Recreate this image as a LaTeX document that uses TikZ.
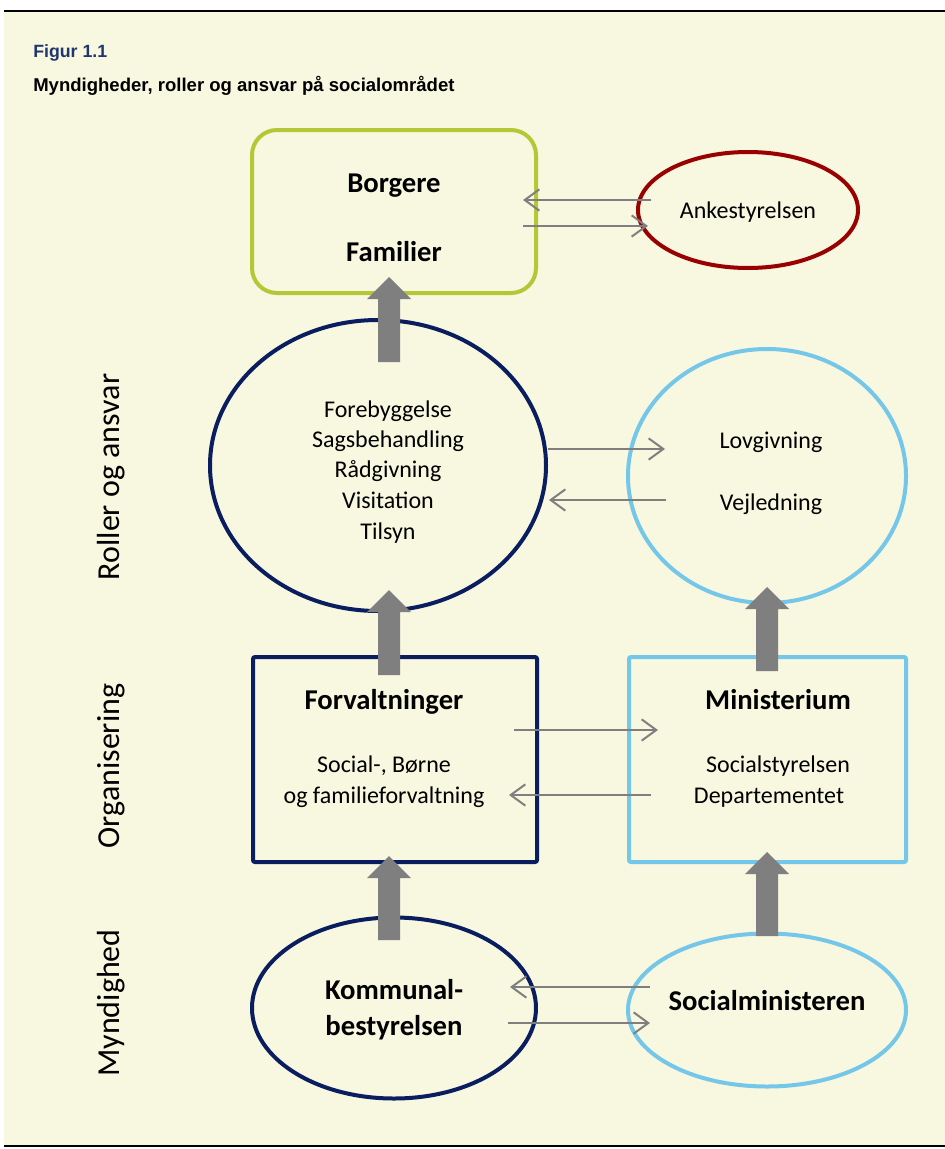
\documentclass[tikz,border=0pt]{standalone}
\usepackage{fontspec}
\setmainfont{Carlito}
\newfontfamily\arialfont{Liberation Sans}
\usetikzlibrary{shapes.geometric,calc,arrows.meta}
\definecolor{cream}{RGB}{248,247,224}
\definecolor{navy}{RGB}{10,30,95}
\definecolor{lblue}{RGB}{117,199,234}
\definecolor{lgreen}{RGB}{180,200,55}
\definecolor{dred}{RGB}{153,0,0}
\definecolor{titleblue}{RGB}{31,55,110}
\definecolor{arrgray}{RGB}{127,127,127}
\newcommand\blockarr[2]{%
  \fill[arrgray] let \p1=(#1), \p2=(#2) in
    (\x1-8.25pt,\y1) -- (\x1-8.25pt,\y2-16.5pt) -- (\x1-16.5pt,\y2-16.5pt) --
    (\x1,\y2) -- (\x1+16.5pt,\y2-16.5pt) -- (\x1+8.25pt,\y2-16.5pt) --
    (\x1+8.25pt,\y1) -- cycle;}
\begin{document}
\begin{tikzpicture}[x=0.75pt,y=-0.75pt,
  shapebox/.style={draw, line width=3pt, inner sep=0pt},
  ell/.style={shapebox, ellipse},
  boldtxt/.style={font=\fontsize{21.5}{26}\selectfont\bfseries, anchor=base, inner sep=0pt},
  regtxt/.style={font=\fontsize{18}{23}\selectfont, anchor=base, inner sep=0pt},
  sidetxt/.style={font=\fontsize{24}{28}\selectfont, rotate=90, inner sep=0pt},
  thinarr/.style={draw=arrgray, line width=1.5pt, -{Straight Barb[length=11pt,width=16pt,line width=1.5pt]}},
]
\useasboundingbox (0,0) rectangle (945,1149);
\fill[cream] (4,12) rectangle (945,1145);
\draw[line width=1.6pt] (4,11) -- (945,11);
\draw[line width=1.6pt] (4,1146) -- (945,1146);

% titles
\node[font=\arialfont\fontsize{13.3}{16}\selectfont\bfseries, text=titleblue, anchor=base west, inner sep=0pt] (fig) at (33,58) {Figur 1.1};
\node[font=\arialfont\fontsize{13.9}{16}\selectfont\bfseries, anchor=base west, inner sep=0pt] (sub) at (33,91) {Myndigheder, roller og ansvar på socialområdet};

% side labels
\node[sidetxt] (lab1) at (111,477) {Roller og ansvar};
\node[sidetxt] (lab2) at (111,766) {Organisering};
\node[sidetxt] (lab3) at (111,1003) {Myndighed};

% shapes
\node[shapebox, draw=lgreen, rounded corners=18.75pt, minimum width=213pt, minimum height=122.25pt] (borg) at (394,211.5) {};
\node[ell, draw=dred, minimum width=165pt, minimum height=87pt] (anke) at (748,210) {};
\node[ell, draw=navy, minimum width=252pt, minimum height=218.25pt] (roles) at (378,465.5) {};
\node[ell, draw=lblue, minimum width=208.5pt, minimum height=190.5pt] (lov) at (767,476) {};
\node[shapebox, draw=navy, rounded corners=1.5pt, minimum width=213pt, minimum height=153.75pt] (forv) at (395,759.5) {};
\node[shapebox, draw=lblue, rounded corners=1.5pt, minimum width=207.75pt, minimum height=153.75pt] (mini) at (767.5,759.5) {};
\node[ell, draw=navy, minimum width=213pt, minimum height=135.75pt] (komm) at (394,1008) {};
\node[ell, draw=lblue, minimum width=208.5pt, minimum height=114.75pt] (socm) at (767,1010) {};

% texts
\node[boldtxt] (t1) at (394,192) {Borgere};
\node[boldtxt] (t2) at (394,261) {Familier};
\node[regtxt] (t3) at (748,218) {Ankestyrelsen};
\node[regtxt] (t4) at (388,417) {Forebyggelse};
\node[regtxt] (t5) at (388,447) {Sagsbehandling};
\node[regtxt] (t6) at (388,477) {Rådgivning};
\node[regtxt] (t7) at (388,508) {Visitation};
\node[regtxt] (t8) at (388,539) {Tilsyn};
\node[regtxt] (t9) at (771,448) {Lovgivning};
\node[regtxt] (t10) at (771,510) {Vejledning};
\node[boldtxt] (t11) at (384,709) {Forvaltninger};
\node[regtxt] (t12) at (384,772) {Social-, Børne};
\node[regtxt] (t13) at (384,803) {og familieforvaltning};
\node[boldtxt] (t14) at (778,709) {Ministerium};
\node[regtxt] (t15) at (778,772) {Socialstyrelsen};
\node[regtxt] (t16) at (769,803) {Departementet};
\node[boldtxt] (t17) at (394,999) {Kommunal-};
\node[boldtxt] (t18) at (394,1035) {bestyrelsen};
\node[boldtxt] (t19) at (767,1010) {Socialministeren};

% block arrow end points
\coordinate (b1s) at (389,362); \coordinate (b1t) at (389,277);
\coordinate (b2s) at (389,675); \coordinate (b2t) at (389,590);
\coordinate (b3s) at (389,940); \coordinate (b3t) at (389,856);
\coordinate (b4s) at (767,671); \coordinate (b4t) at (767,587);
\coordinate (b5s) at (767,936); \coordinate (b5t) at (767,852);
\blockarr{b1s}{b1t}
\blockarr{b2s}{b2t}
\blockarr{b3s}{b3t}
\blockarr{b4s}{b4t}
\blockarr{b5s}{b5t}

% thin arrow end points
\coordinate (a1s) at (651,200); \coordinate (a1t) at (523,200);
\coordinate (a2s) at (523,226); \coordinate (a2t) at (648,226);
\coordinate (a3s) at (548,449); \coordinate (a3t) at (665,449);
\coordinate (a4s) at (666,500); \coordinate (a4t) at (549,500);
\coordinate (a5s) at (514,730); \coordinate (a5t) at (658,730);
\coordinate (a6s) at (651,795); \coordinate (a6t) at (509,795);
\coordinate (a7s) at (650,987); \coordinate (a7t) at (510,987);
\coordinate (a8s) at (508,1023); \coordinate (a8t) at (650,1023);
\draw[thinarr] (a1s) -- (a1t);
\draw[thinarr] (a2s) -- (a2t);
\draw[thinarr] (a3s) -- (a3t);
\draw[thinarr] (a4s) -- (a4t);
\draw[thinarr] (a5s) -- (a5t);
\draw[thinarr] (a6s) -- (a6t);
\draw[thinarr] (a7s) -- (a7t);
\draw[thinarr] (a8s) -- (a8t);
\end{tikzpicture}
\end{document}
